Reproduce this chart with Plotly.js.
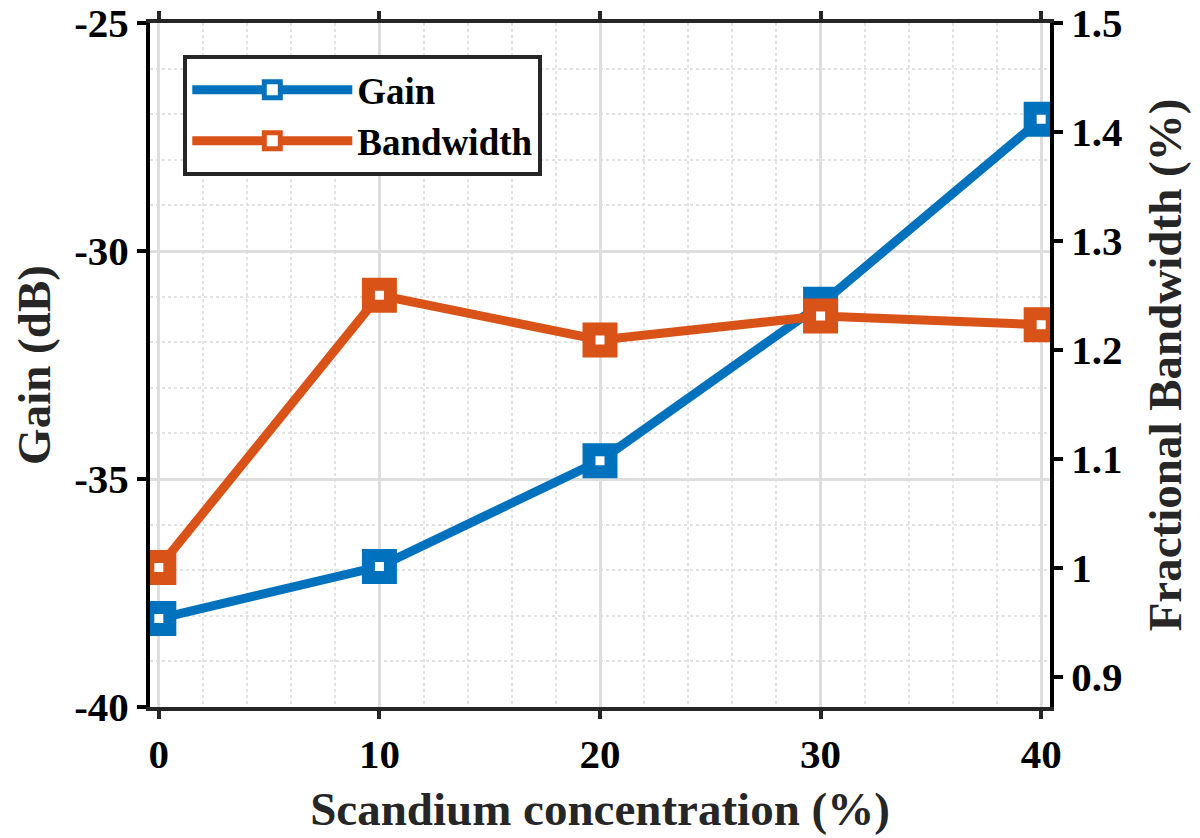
<!DOCTYPE html>
<html><head><meta charset="utf-8">
<script src="https://cdn.plot.ly/plotly-3.0.1.min.js"></script>
<style>html,body{margin:0;padding:0;background:#fff;}#chart{width:1200px;height:838px;}</style>
</head><body><div id="chart"></div>
<script>
const scandium = [0, 10, 20, 30, 40];
const gainDb = [-38.06, -36.92, -34.6, -31.17, -27.11];
const bandwidthPct = [1.0, 1.25, 1.209, 1.231, 1.223];
const gainTickVals = [-40, -35, -30, -25];
const gainTickText = ['-40', '-35', '-30', '-25'];
const xTickVals = [0, 10, 20, 30, 40];
const xTickText = ['0', '10', '20', '30', '40'];

const FONT = '"Liberation Serif", "Times New Roman", serif';
const blue = '#0072BD', orange = '#D95319';

const traces = [
  {x: scandium, y: gainDb, name: 'Gain', type: 'scatter', mode: 'lines+markers',
   line: {color: blue, width: 9},
   marker: {symbol: 'square', size: 22, color: '#ffffff', line: {color: blue, width: 13}}},
  {x: scandium, y: bandwidthPct, name: 'Bandwidth', type: 'scatter', mode: 'lines+markers', yaxis: 'y2',
   line: {color: orange, width: 9},
   marker: {symbol: 'square', size: 22, color: '#ffffff', line: {color: orange, width: 13}}}
];

const tickFont = {family: FONT, size: 41, color: '#000', weight: 'bold'};
const titleFont = {family: FONT, size: 47, color: '#262626', weight: 'bold'};

const layout = {
  width: 1200, height: 838,
  margin: {l: 150, r: 150, t: 23, b: 131},
  paper_bgcolor: '#fff', plot_bgcolor: '#fff',
  showlegend: true,
  legend: {x: 0.037, y: 0.953, xanchor: 'left', yanchor: 'top',
    bgcolor: '#fff', bordercolor: '#262626', borderwidth: 4,
    font: {family: FONT, size: 37, color: '#000', weight: 'bold'},
    itemwidth: 160, tracegroupgap: 0},
  xaxis: {range: [-0.4, 40.4], tickvals: xTickVals, ticktext: xTickText,
    showline: true, linecolor: '#262626', linewidth: 4, mirror: 'ticks',
    ticks: 'outside', ticklen: 8, tickwidth: 4, tickcolor: '#262626',
    tickfont: tickFont, zeroline: false,
    showgrid: true, gridcolor: '#dedede', gridwidth: 3,
    minor: {dtick: 2, showgrid: true, gridcolor: '#e2e2e2', gridwidth: 2, griddash: 'dot', ticks: ''},
    title: {text: 'Scandium concentration (%)', font: titleFont, standoff: 17}},
  yaxis: {range: [-40, -25], tickvals: gainTickVals, ticktext: gainTickText,
    showline: true, linecolor: '#000', linewidth: 4, mirror: false,
    ticks: 'outside', ticklen: 9, tickwidth: 4, tickcolor: '#000',
    tickfont: tickFont, zeroline: false,
    showgrid: true, gridcolor: '#dedede', gridwidth: 3,
    minor: {dtick: 1, showgrid: true, gridcolor: '#e2e2e2', gridwidth: 2, griddash: 'dot', ticks: ''},
    title: {text: 'Gain (dB)', font: titleFont, standoff: 10}},
  yaxis2: {range: [0.872, 1.5], dtick: 0.1, tick0: 0.9, overlaying: 'y', side: 'right',
    showline: true, linecolor: '#000', linewidth: 4,
    ticks: 'outside', ticklen: 9, tickwidth: 4, tickcolor: '#000',
    tickfont: tickFont, zeroline: false, showgrid: false,
    title: {text: 'Fractional Bandwidth (%)', font: titleFont, standoff: 28}}
};

Plotly.newPlot('chart', traces, layout, {displayModeBar: false, staticPlot: true});
</script></body></html>
